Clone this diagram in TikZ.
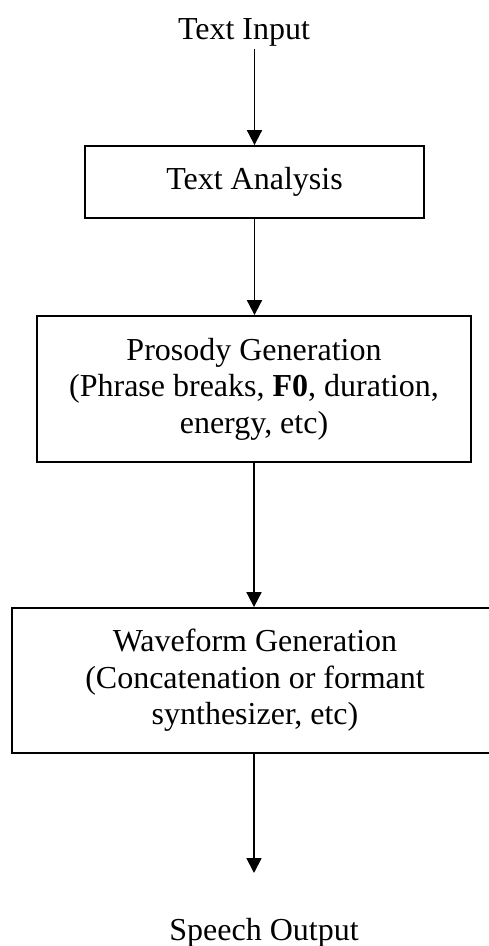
\documentclass[tikz,border=0pt]{standalone}
\usepackage{fontspec}
\setmainfont{Liberation Serif}
\usetikzlibrary{arrows.meta}
\begin{document}
\begin{tikzpicture}[x=0.5pt,y=-0.5pt,
    font=\fontsize{16pt}{18.25pt}\selectfont,
    stage/.style={draw,line width=0.9pt,align=center,inner sep=0pt},
    term/.style={anchor=base,inner sep=1pt},
    flow/.style={-{Triangle[length=7.5pt,width=7.5pt]},line width=0.9pt}]
  \useasboundingbox (0,0) rectangle (488,946);
  \draw
    (244,40) node[term] (input){Text Input}
    (254.5,182) node[stage,minimum width=169.5pt,minimum height=36pt] (analysis){Text Analysis}
    (254,389) node[stage,minimum width=217pt,minimum height=73pt] (prosody){Prosody Generation\\(Phrase breaks, \textbf{F0}, duration,\\energy, etc)}
    (255,680.5) node[stage,minimum width=243pt,minimum height=72.5pt] (waveform){Waveform Generation\\(Concatenation or formant\\synthesizer, etc)}
    (264,940) node[term] (output){Speech Output};
  \coordinate (outend) at (254,873);
  \begin{scope}[flow]
    \draw (input.south -| analysis.north) to (analysis.north);
    \draw (analysis.south) to (analysis.south |- prosody.north);
    \draw (prosody.south) to (prosody.south |- waveform.north);
    \draw (waveform.south -| outend) to (outend);
  \end{scope}
\end{tikzpicture}
\end{document}
